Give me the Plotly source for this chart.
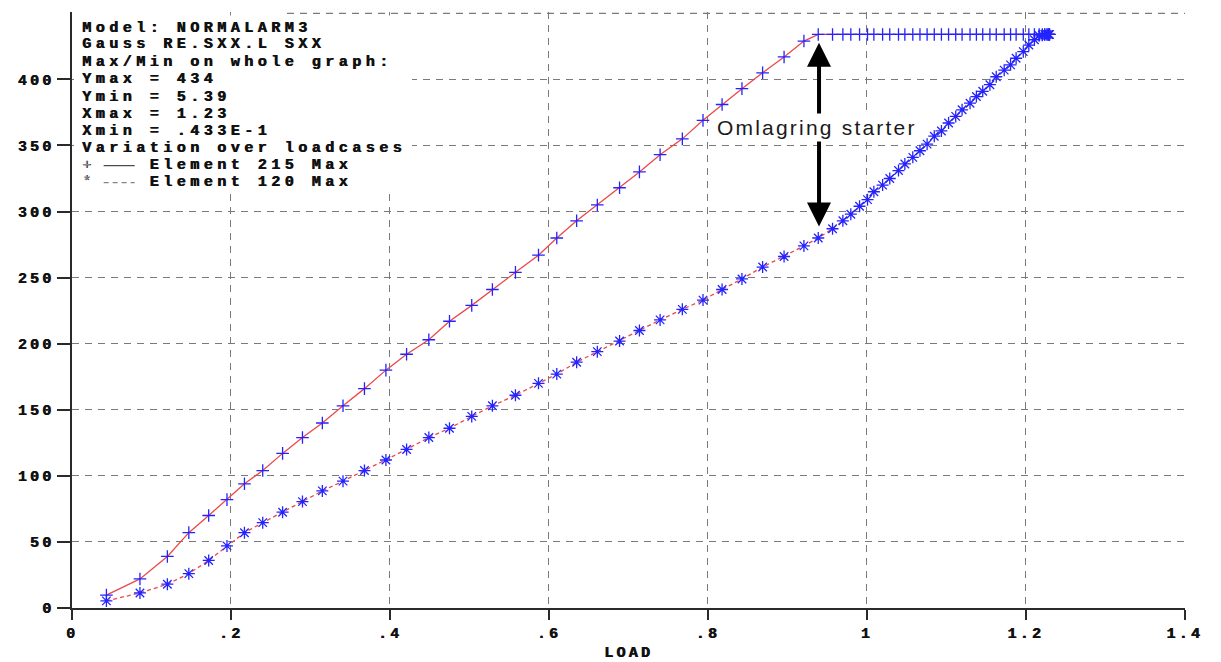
import plotly.graph_objects as go

# ---------------- data ----------------
load = [0.0433, 0.0855, 0.120, 0.147, 0.172, 0.195, 0.217, 0.240, 0.265, 0.290,
        0.315, 0.341, 0.368, 0.395, 0.421, 0.449, 0.475, 0.503, 0.529, 0.558,
        0.587, 0.610, 0.635, 0.661, 0.689, 0.714, 0.740, 0.768, 0.794, 0.818,
        0.843, 0.869, 0.896, 0.921, 0.939,
        0.957, 0.970, 0.980, 0.991, 1.001, 1.009, 1.020, 1.029, 1.040, 1.048,
        1.058, 1.067, 1.076, 1.085, 1.094, 1.103, 1.112, 1.120, 1.130, 1.138,
        1.146, 1.155, 1.163, 1.173, 1.181, 1.188, 1.197, 1.204, 1.211, 1.217,
        1.221, 1.224, 1.227, 1.229, 1.230]

elem215 = [9.8, 22, 39, 57, 70, 82, 94, 104, 117, 129,
           140, 153, 166, 180, 192, 203, 217, 229, 241, 254,
           267, 280, 293, 305, 318, 330, 343, 355, 369, 381,
           393, 405, 417, 429, 434,
           434, 434, 434, 434, 434, 434, 434, 434, 434, 434,
           434, 434, 434, 434, 434, 434, 434, 434, 434, 434,
           434, 434, 434, 434, 434, 434, 434, 434, 434, 434,
           434, 434, 434, 434, 434]

elem120 = [5.39, 11.4, 18, 26, 36, 47, 57, 64.6, 72.5, 80.5,
           88.6, 96, 104, 112, 120, 129, 136, 145, 153, 161,
           170, 177, 186, 194, 202, 210, 218, 226, 233, 241,
           249, 258, 266, 274, 280,
           287, 293, 298, 304, 309, 315, 320, 325, 331, 336,
           341, 346, 351, 357, 361, 367, 372, 377, 382, 387,
           391, 396, 402, 407, 411, 416, 421, 426, 430, 433,
           433.5, 434, 434, 434, 434]

x_tickvals = [0, 0.2, 0.4, 0.6, 0.8, 1.0, 1.2, 1.4]
x_ticktext = ["0", ".2", ".4", ".6", ".8", "1", "1.2", "1.4"]
y_tickvals = [0, 50, 100, 150, 200, 250, 300, 350, 400]
y_ticktext = ["0", "50", "100", "150", "200", "250", "300", "350", "400"]

info_lines = ["Model: NORMALARM3", "Gauss RE.SXX.L SXX", "Max/Min on whole graph:",
              "Ymax = 434", "Ymin = 5.39", "Xmax = 1.23", "Xmin = .433E-1",
              "Variation over loadcases"]
legend_symbols = ["+", "*"]
legend_names = ["Element 215 Max", "Element 120 Max"]
arrow_label = "Omlagring starter"

# ---------------- styling / geometry ----------------
W, H = 1221, 662
ML, MR, MT, MB = 72, 36, 12, 54
X_RANGE = [0, 1.4005]
Y_RANGE = [0, 451]
MONO = "Liberation Mono"
RED = "rgb(236,72,72)"
BLUE = "rgb(35,35,255)"
GRID = "#7a7a7a"
AX = "#2a2a2a"
TXT = "#111111"
SHADOW = "0.7px 0 0 #111111"
BOX_SIZE = 15
BOX_SP = 4.5
TICK_SIZE = 15
TICK_SP = 3.2


def ls(text, sp, bold=True):
    inner = f"<b>{text}</b>" if bold else text
    return f'<span style="letter-spacing:{sp}px">{inner}</span>'


def px2paper(px, py):
    return (px - ML) / (W - ML - MR), (H - MB - py) / (H - MT - MB)


fig = go.Figure()
fig.add_trace(go.Scatter(
    x=load, y=elem215, mode="lines+markers", name="Element 215 Max",
    line=dict(color=RED, width=1.3),
    marker=dict(symbol="cross-thin-open", size=9, color=BLUE,
                line=dict(color=BLUE, width=1.3)),
))
fig.add_trace(go.Scatter(
    x=load, y=elem120, mode="lines+markers", name="Element 120 Max",
    line=dict(color=RED, width=1.3, dash="4px,3px"),
    marker=dict(symbol="asterisk-open", size=10, color=BLUE,
                line=dict(color=BLUE, width=1.3)),
))

tick_font = dict(family=MONO, size=TICK_SIZE, color=TXT, shadow=SHADOW)

fig.update_xaxes(
    range=X_RANGE, tickmode="array", tickvals=x_tickvals,
    ticktext=[ls(t, TICK_SP) for t in x_ticktext], automargin=False,
    showgrid=True, gridcolor=GRID, gridwidth=1.2, griddash="7px,6px",
    zeroline=False, showline=True, linecolor=AX, linewidth=1.5,
    ticks="outside", ticklen=10, tickwidth=1.5, tickcolor=AX,
    tickfont=tick_font,
    title=dict(text=ls("LOAD", TICK_SP), font=dict(family=MONO, size=TICK_SIZE, color=TXT, shadow=SHADOW),
               standoff=11),
)
fig.update_yaxes(
    range=Y_RANGE, tickmode="array", tickvals=y_tickvals,
    ticktext=[ls(t, TICK_SP) for t in y_ticktext], automargin=False,
    showgrid=True, gridcolor=GRID, gridwidth=1.2, griddash="7px,6px",
    zeroline=False, showline=True, linecolor=AX, linewidth=1.5,
    ticks="outside", ticklen=13, tickwidth=1.5, tickcolor=AX,
    tickfont=tick_font,
)

shapes = []
# white info box (covers grid)
bx0, by0 = px2paper(74, 193)
bx1, by1 = px2paper(412, 15.5)
shapes.append(dict(type="rect", xref="paper", yref="paper", x0=bx0, x1=bx1, y0=by0, y1=by1,
                   fillcolor="white", line=dict(width=0), layer="above"))
# top frame line (partially hidden by the info box in the reference)
tx0, _ = px2paper(287, MT)
shapes.append(dict(type="line", xref="paper", yref="y", x0=tx0, x1=1, y0=450, y1=450,
                   line=dict(color=GRID, width=1.2, dash="7px,6px"), layer="between"))

annotations = []
line_y = [28.3, 45.0, 62.3, 80.0, 97.3, 114.3, 131.7, 148.3, 165.7, 182.7]
text_x = 80.7
char_w = 0.6 * BOX_SIZE + BOX_SP
box_font = dict(family=MONO, size=BOX_SIZE, color=TXT, shadow=SHADOW)
for i, t in enumerate(info_lines):
    ax_, ay_ = px2paper(text_x, line_y[i])
    annotations.append(dict(
        xref="paper", yref="paper", x=ax_, y=ay_, xanchor="left", yanchor="middle",
        text=ls(t.replace(" ", "\u00a0"), BOX_SP), showarrow=False, borderpad=0,
        font=box_font))
for j, (sym, name) in enumerate(zip(legend_symbols, legend_names)):
    py = line_y[8 + j]
    ax_, ay_ = px2paper(text_x, py)
    txt = (f'<span style="letter-spacing:{BOX_SP}px;color:#888">{sym}</span>'
           + ls("\u00a0\u00a0\u00a0\u00a0" + name.replace(" ", "\u00a0"), BOX_SP))
    annotations.append(dict(
        xref="paper", yref="paper", x=ax_, y=ay_, xanchor="left", yanchor="middle",
        text=txt, showarrow=False, borderpad=0, font=box_font))
    sx0, sy = px2paper(text_x + 1.7 * char_w, py)
    sx1, _ = px2paper(text_x + 4.0 * char_w, py)
    shapes.append(dict(type="line", xref="paper", yref="paper", x0=sx0, x1=sx1, y0=sy, y1=sy,
                       line=dict(color="#222" if j == 0 else "#666", width=1,
                                 dash="solid" if j == 0 else "5px,4px"), layer="above"))

# double-headed arrow
annotations.append(dict(
    x=0.940, y=427.8, ax=0.940, ay=287.6, xref="x", yref="y", axref="x", ayref="y",
    text="", showarrow=True, arrowside="end+start",
    arrowhead=2, startarrowhead=2, arrowsize=1.2, startarrowsize=1.2,
    arrowwidth=4, arrowcolor="black", standoff=0, startstandoff=0))
annotations.append(dict(
    x=0.938, y=363.4, xref="x", yref="y", text=ls(arrow_label, 2.2, bold=False), showarrow=False,
    bgcolor="white", borderpad=2,
    font=dict(family="Liberation Sans", size=21, color="#1a1a1a")))

fig.update_layout(
    width=W, height=H, margin=dict(l=ML, r=MR, t=MT, b=MB),
    paper_bgcolor="white", plot_bgcolor="white", showlegend=False,
    shapes=shapes, annotations=annotations,
)

fig.write_html("out.html")
